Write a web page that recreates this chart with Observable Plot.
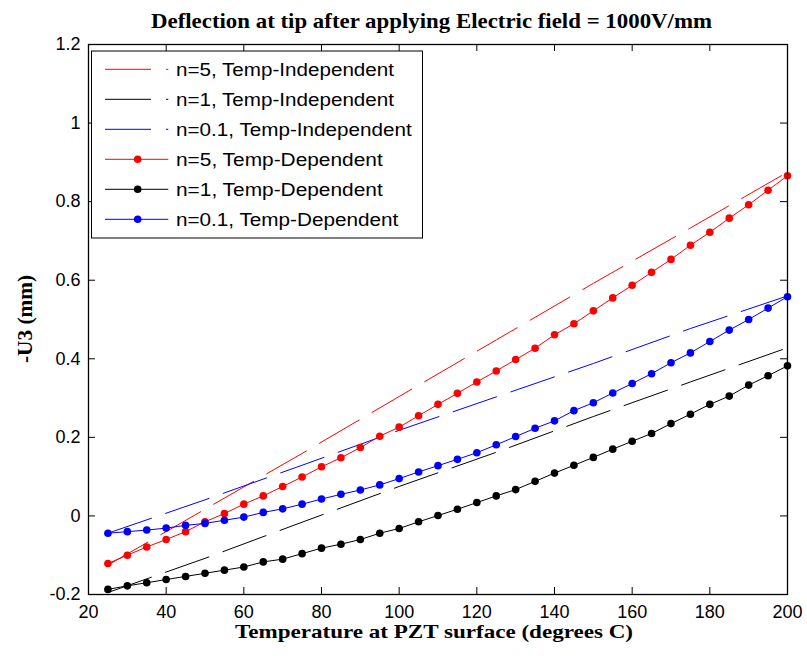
<!DOCTYPE html>
<html>
<head>
<meta charset="utf-8">
<script src="https://cdn.jsdelivr.net/npm/d3@7"></script>
<script src="https://cdn.jsdelivr.net/npm/@observablehq/plot@0.6"></script>
<style>
  html, body { margin: 0; padding: 0; background: #fff; }
  #wrap { position: relative; width: 807px; height: 656px; }
  #wrap svg { display: block; }
  #overlay { position: absolute; left: 0; top: 0; pointer-events: none; }
</style>
</head>
<body>
<div id="wrap"></div>
<script>
// ---- data ----
const temps = [25,30,35,40,45,50,55,60,65,70,75,80,85,90,95,100,105,110,115,120,125,130,135,140,145,150,155,160,165,170,175,180,185,190,195,200];
const depN5  = [-0.121,-0.100,-0.079,-0.060,-0.040,-0.015,0.006,0.030,0.051,0.075,0.099,0.125,0.148,0.174,0.203,0.226,0.255,0.284,0.312,0.341,0.369,0.398,0.427,0.461,0.489,0.522,0.555,0.587,0.620,0.653,0.689,0.722,0.758,0.792,0.829,0.866];
const depN1  = [-0.187,-0.178,-0.170,-0.162,-0.154,-0.146,-0.138,-0.130,-0.117,-0.110,-0.096,-0.082,-0.072,-0.060,-0.044,-0.032,-0.015,0.001,0.017,0.034,0.051,0.067,0.088,0.109,0.129,0.149,0.170,0.190,0.210,0.235,0.259,0.284,0.305,0.333,0.357,0.382];
const depN01 = [-0.044,-0.040,-0.036,-0.031,-0.024,-0.019,-0.011,-0.003,0.009,0.018,0.030,0.043,0.055,0.066,0.079,0.095,0.112,0.128,0.144,0.161,0.181,0.202,0.223,0.242,0.268,0.288,0.313,0.337,0.362,0.390,0.415,0.444,0.473,0.500,0.529,0.558];

const indepTemps = [25,50,75,100,125,150,175,200];
const indepN5  = [-0.125,0.017,0.159,0.304,0.448,0.592,0.733,0.875];
const indepN1  = [-0.195,-0.108,-0.016,0.075,0.162,0.253,0.341,0.428];
const indepN01 = [-0.044,0.041,0.129,0.218,0.303,0.388,0.477,0.560];

const xTicks = [20,40,60,80,100,120,140,160,180,200];
const yTicks = [-0.2,0,0.2,0.4,0.6,0.8,1,1.2];
const yTickLabels = ["-0.2","0","0.2","0.4","0.6","0.8","1","1.2"];

const titleText = "Deflection at tip after applying Electric field = 1000V/mm";
const xLabel = "Temperature at PZT surface (degrees C)";
const yLabel = "-U3 (mm)";

const seriesNames = ["n=5, Temp-Independent","n=1, Temp-Independent","n=0.1, Temp-Independent",
                     "n=5, Temp-Dependent","n=1, Temp-Dependent","n=0.1, Temp-Dependent"];
const seriesColors = ["#ff0000","#000000","#0000ff","#ff0000","#000000","#0000ff"];

// ---- tables ----
const indep = [indepN5, indepN1, indepN01].map((vals, i) =>
  vals.map((v, j) => ({t: indepTemps[j], v, s: i})));
const dep = [depN5, depN1, depN01].map((vals, i) =>
  vals.map((v, j) => ({t: temps[j], v, s: i + 3})));

const W = 807, H = 656;
const mL = 88, mR = 20, mT = 44, mB = 62;
const fw = W - mL - mR, fh = H - mT - mB;
const tk = 7;
const dash = "46,15";

const marks = [];
indep.forEach(d => marks.push(Plot.line(d, {x: "t", y: "v", stroke: seriesColors[d[0].s], strokeWidth: 1, strokeDasharray: dash})));
dep.forEach(d => {
  marks.push(Plot.line(d, {x: "t", y: "v", stroke: seriesColors[d[0].s], strokeWidth: 1}));
  marks.push(Plot.dot(d, {x: "t", y: "v", fill: seriesColors[d[0].s], r: 3.8, stroke: "none"}));
});

const chart = Plot.plot({
  width: W, height: H,
  marginLeft: mL, marginRight: mR, marginTop: mT, marginBottom: mB,
  style: {fontFamily: "'Liberation Sans', Arial, sans-serif", fontSize: "18px", background: "#fff", color: "#000"},
  x: {domain: [20, 200]},
  y: {domain: [-0.2, 1.2]},
  marks: [
    Plot.axisX(xTicks, {tickSize: 0, tickPadding: 11, fontSize: 18, label: null, tickFormat: d => String(d)}),
    Plot.axisY(yTicks, {tickSize: 0, tickPadding: 8, fontSize: 18, label: null, tickFormat: (d, i) => yTickLabels[i]}),
    Plot.tickX(xTicks, {x: d => d, insetTop: fh - tk, stroke: "#000", strokeWidth: 1}),
    Plot.tickX(xTicks, {x: d => d, insetBottom: fh - tk, stroke: "#000", strokeWidth: 1}),
    Plot.tickY(yTicks, {y: d => d, insetRight: fw - tk, stroke: "#000", strokeWidth: 1}),
    Plot.tickY(yTicks, {y: d => d, insetLeft: fw - tk, stroke: "#000", strokeWidth: 1}),
    ...marks,
    Plot.frame({stroke: "#000", strokeWidth: 1.3})
  ]
});

const wrap = document.getElementById("wrap");
wrap.appendChild(chart);

// ---- overlay: title, axis labels, legend ----
const ns = "http://www.w3.org/2000/svg";
const ov = document.createElementNS(ns, "svg");
ov.setAttribute("id", "overlay");
ov.setAttribute("width", W);
ov.setAttribute("height", H);
function el(tag, attrs, parent) {
  const e = document.createElementNS(ns, tag);
  for (const k in attrs) e.setAttribute(k, attrs[k]);
  (parent || ov).appendChild(e);
  return e;
}
const serif = "'Liberation Serif', 'Times New Roman', serif";
const sans = "'Liberation Sans', Arial, sans-serif";

let t = el("text", {x: 431.5, y: 28, "text-anchor": "middle", "font-family": serif, "font-weight": "bold", "font-size": 21, textLength: 561, lengthAdjust: "spacingAndGlyphs"});
t.textContent = titleText;
t = el("text", {x: 434, y: 638, "text-anchor": "middle", "font-family": serif, "font-weight": "bold", "font-size": 19.5, textLength: 398, lengthAdjust: "spacingAndGlyphs"});
t.textContent = xLabel;
const g = el("g", {transform: "translate(32,319) rotate(-90)"});
t = el("text", {x: 0, y: 0, "text-anchor": "middle", "font-family": serif, "font-weight": "bold", "font-size": 21, textLength: 88, lengthAdjust: "spacingAndGlyphs"}, g);
t.textContent = yLabel;

// legend
el("rect", {x: 91.5, y: 51, width: 331, height: 187, fill: "#fff", stroke: "#000", "stroke-width": 1});
const rowY0 = 69.3, rowStep = 30;
const textEnds = [394, 394, 411.7, 382.7, 382.7, 398.3];
seriesNames.forEach((name, i) => {
  const yy = rowY0 + i * rowStep;
  const line = el("line", {x1: 105, x2: 168.3, y1: yy, y2: yy, stroke: seriesColors[i], "stroke-width": 1});
  if (i < 3) line.setAttribute("stroke-dasharray", dash);
  if (i >= 3) el("circle", {cx: 137.7, cy: yy, r: 3.8, fill: seriesColors[i]});
  const tx = el("text", {x: 176, y: yy, dy: "0.36em", "font-family": sans, "font-size": 18, textLength: textEnds[i] - 176, lengthAdjust: "spacingAndGlyphs"});
  tx.textContent = name;
});
wrap.appendChild(ov);
</script>
</body>
</html>
